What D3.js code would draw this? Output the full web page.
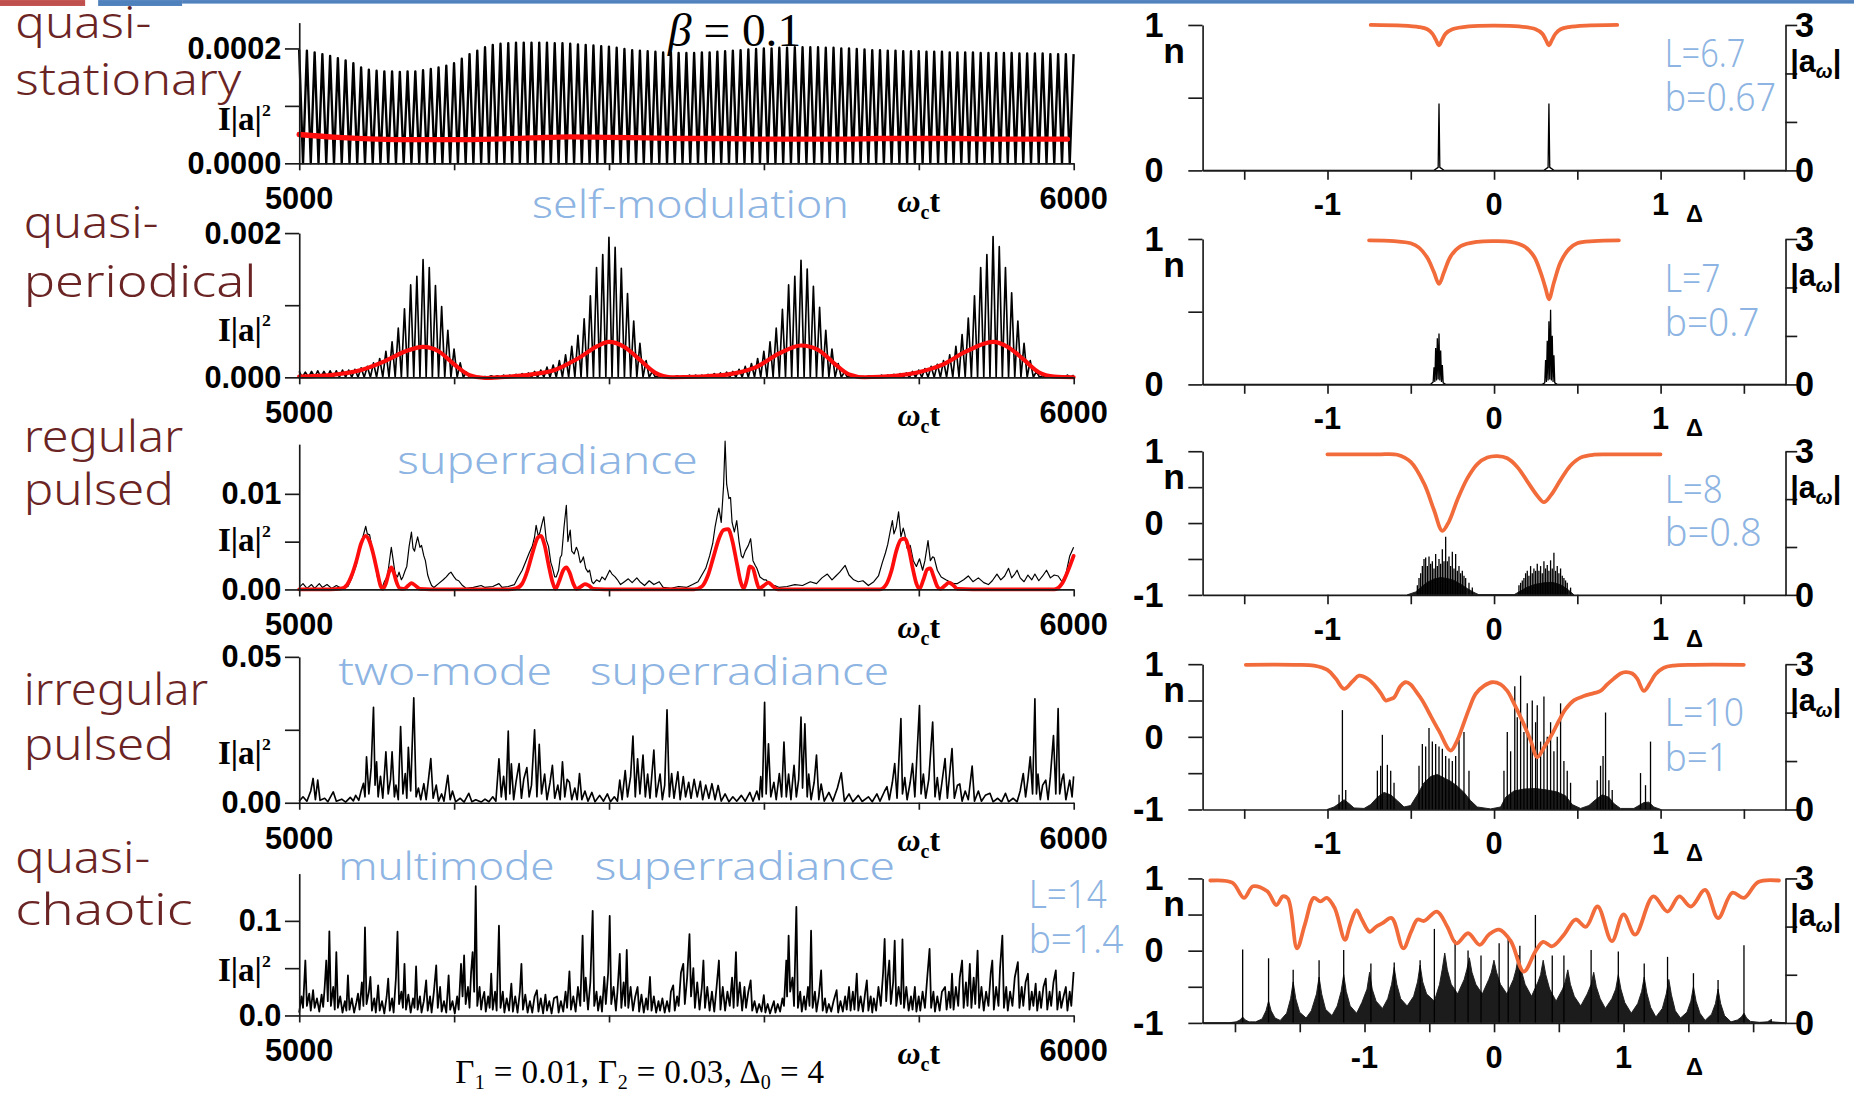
<!DOCTYPE html>
<html lang="en">
<head>
<meta charset="UTF-8">
<title>Superradiance regimes</title>
<script src="https://d3js.org/d3.v7.min.js"></script>
<style>
  html, body { margin: 0; padding: 0; background: #fff; }
  svg { display: block; }
  .axis path, .axis line { stroke: #1a1a1a; stroke-width: 1.4; }
  .tick-label { font-family: "Liberation Sans", Arial, sans-serif; font-weight: bold; fill: #000; }
  .serif { font-family: "Liberation Serif", "Times New Roman", serif; fill: #000; }
  .regime { font-family: "Noto Sans", "DejaVu Sans", sans-serif; font-weight: 300; fill: #6b2424; font-size: 38px; }
  .note { font-family: "Noto Sans", "DejaVu Sans", sans-serif; font-weight: 300; fill: #8db4e2; font-size: 33px; }
</style>
</head>
<body>
<div id="chart"></div>
<script>
// ---------- data ----------
const timeDomain = [5000, 6000];
const timeTicks = [5000, 5200, 5400, 5600, 5800, 6000];

const regimes = [["quasi-", "stationary"], ["quasi-", "periodical"], ["regular", "pulsed"], ["irregular", "pulsed"], ["quasi-", "chaotic"]];
const params = [["L=6.7", "b=0.67"], ["L=7", "b=0.7"], ["L=8", "b=0.8"], ["L=10", "b=1"], ["L=14", "b=1.4"]];

// intensity axis (values in units of the top label's last digit)
const intTicks = [[0, 1, 2], [0, 1, 2], [0, 5, 10], [0, 25, 50], [0, 50, 100]];
const intTickLabels = [["0.0000", "", "0.0002"], ["0.000", "", "0.002"], ["0.00", "", "0.01"], ["0.00", "", "0.05"], ["0.0", "", "0.1"]];
const intMax = [2.45, 2, 15.2, 50, 150];

// quasi-stationary: peak heights of each oscillation (x1e-4), one every 10 time units
const stationaryPeaks = [1.98,1.96,1.93,1.9,1.87,1.83,1.79,1.74,1.67,1.63, 1.61,1.6,1.6,1.59,1.6,1.6,1.62,1.64,1.67,1.7,
  1.74,1.82,1.9,1.96,2.02,2.06,2.08,2.09,2.1,2.1, 2.1,2.1,2.1,2.09,2.09,2.08,2.07,2.06,2.05,2.04,
  2.03,2.01,1.99,1.97,1.96,1.95,1.94,1.93,1.93,1.92, 1.92,1.92,1.93,1.93,1.94,1.95,1.96,1.97,1.98,1.99,
  2.0,2.0,2.01,2.01,2.02,2.02,2.02,2.02,2.01,2.01, 2.0,2.0,1.99,1.98,1.97,1.97,1.96,1.96,1.95,1.95,
  1.95,1.94,1.94,1.94,1.93,1.93,1.93,1.93,1.92,1.92, 1.92,1.92,1.92,1.91,1.91,1.91,1.91,1.9,1.9,1.9, 1.9];
const stationaryMean = [[5000,0.5],[5050,0.45],[5100,0.42],[5150,0.41],[5200,0.41],[5250,0.42],[5300,0.44],[5350,0.46],
  [5400,0.45],[5450,0.44],[5500,0.43],[5550,0.43],[5600,0.42],[5650,0.42],[5700,0.42],[5750,0.43],[5800,0.43],
  [5850,0.43],[5900,0.42],[5950,0.42],[5992,0.42]];

// quasi-periodical: peak heights (x1e-3), one every 8 time units
const periodicPeaks = [0.08,0.07,0.08,0.09,0.08,0.09, 0.09,0.1,0.1,0.11,
  0.13,0.15,0.2,0.26,0.36,0.49,0.68,0.95,1.28,1.4, 1.63,1.52,1.27,0.98,0.65,0.39,0.2,0.07,0.02,
  0.01,0.01,0.02,0.02,0.03,0.03,
  0.04,0.05,0.06,0.08,0.1,0.14,0.17,0.23,0.31,0.43,0.58,0.81,1.13,1.52,1.7, 1.94,1.8,1.51,1.16,0.78,0.47,0.23,0.08,0.02,
  0.01,0.01,0.02,0.02,0.03,0.03,
  0.03,0.04,0.05,0.06,0.07,0.08,0.11,0.15,0.19,0.26,0.36,0.49,0.68,0.94,1.28,1.4, 1.62,1.5,1.26,0.97,0.65,0.39,0.19,0.07,0.02,
  0.01,0.01,0.02,0.02,0.03,0.03,
  0.04,0.05,0.06,0.08,0.1,0.12,0.15,0.18,0.23,0.31,0.43,0.59,0.82,1.13,1.52,1.7, 1.95,1.81,1.52,1.17,0.78,0.47,0.23,0.08,0.02,
  0.01,0.02,0.02,0.03,0.03];
const periodicMean = [[5000,0.01],[5040,0.03],[5080,0.1],[5110,0.22],[5140,0.37],[5160,0.42],[5180,0.36],[5200,0.18],
  [5220,0.03],[5240,-0.01],[5260,0],[5300,0.04],[5330,0.1],[5360,0.26],[5385,0.43],[5400,0.49],[5420,0.42],[5440,0.24],
  [5460,0.06],[5480,0],[5520,0.01],[5560,0.05],[5590,0.14],[5620,0.33],[5648,0.44],[5670,0.38],[5690,0.2],[5710,0.04],
  [5730,0],[5770,0.02],[5800,0.07],[5830,0.17],[5860,0.35],[5896,0.49],[5915,0.42],[5935,0.25],[5955,0.07],[5975,0.01],[6000,0]];

// regular pulsed (x1e-3)
const regularTrace = [[5000,0.2],[5005,0.6],[5010,0.1],[5016,0.5],[5020,0.1],[5026,0.6],[5030,0.2],[5036,0.5],[5042,0.1],[5048,0.4],
  [5055,0.1],[5063,0.3],[5068,1.2],[5074,2.6],[5078,4.2],[5081,5.1],[5084,6.0],[5086,6.6],[5088,5.8],[5091,5.7],[5094,4.4],
  [5096,3.7],[5099,2.2],[5101,1.3],[5104,0.5],[5107,0.1],[5110,0.8],[5114,1.4],[5117,3.2],[5119,4.4],[5121,3.3],[5124,1.6],
  [5127,1.3],[5129,1.8],[5132,1.0],[5134,1.3],[5137,2.0],[5139,2.4],[5142,4.5],[5145,6.0],[5147,4.3],[5149,4.0],[5151,4.8],
  [5153,5.5],[5156,4.4],[5158,4.6],[5161,3.5],[5163,3.0],[5166,1.5],[5168,1.0],[5171,0.4],[5174,0.2],[5180,0.6],[5186,1.0],
  [5190,1.3],[5193,1.6],[5196,1.8],[5200,1.3],[5203,1.0],[5206,0.9],[5211,0.4],[5216,0.1],[5225,0.2],[5235,0.4],[5240,0.2],
  [5250,0.3],[5258,0.6],[5262,0.2],[5270,0.3],[5278,0.5],[5283,1.3],[5288,2.0],[5293,3.0],[5297,3.8],[5301,4.5],[5304,5.5],
  [5306,6.7],[5309,5.5],[5311,6.0],[5314,7.0],[5316,7.6],[5319,5.2],[5322,4.5],[5325,2.8],[5327,2.3],[5330,1.3],[5332,1.3],
  [5335,2.0],[5337,3.3],[5339,3.6],[5342,6.5],[5345,8.8],[5347,5.0],[5350,6.2],[5352,4.0],[5355,3.7],[5358,4.4],[5360,4.0],
  [5363,2.8],[5365,3.0],[5367,3.4],[5370,2.2],[5373,1.8],[5375,2.0],[5378,0.8],[5380,0.6],[5384,1.0],[5388,0.8],[5391,1.3],
  [5395,1.0],[5398,1.5],[5401,2.0],[5404,1.6],[5408,1.3],[5411,1.0],[5415,0.5],[5420,0.8],[5425,1.1],[5430,0.7],[5436,1.2],
  [5440,0.8],[5446,0.4],[5452,0.9],[5458,0.5],[5465,0.8],[5470,0.2],[5480,0.1],[5490,0.3],[5500,0.2],[5508,0.5],[5515,0.8],
  [5520,1.5],[5525,2.2],[5530,3.5],[5534,4.8],[5537,6.5],[5540,7.8],[5542,8.5],[5545,7.0],[5548,10.8],[5550,15.5],[5552,11.0],
  [5555,9.5],[5557,9.6],[5559,7.0],[5562,6.0],[5565,7.2],[5568,5.0],[5571,3.5],[5573,3.3],[5576,4.0],[5580,4.6],[5583,5.3],
  [5586,3.0],[5589,2.5],[5591,2.2],[5595,1.3],[5600,1.0],[5603,1.0],[5608,0.5],[5614,0.4],[5620,0.2],[5630,0.3],[5640,0.5],
  [5650,0.4],[5660,0.8],[5668,0.6],[5675,1.2],[5682,1.6],[5688,1.0],[5693,1.4],[5698,1.8],[5705,2.5],[5710,1.5],[5716,1.0],
  [5722,0.8],[5728,0.9],[5735,0.4],[5742,0.8],[5748,1.4],[5753,2.8],[5757,3.8],[5760,4.7],[5763,6.0],[5766,7.2],[5768,5.8],
  [5771,6.5],[5774,8.1],[5777,5.5],[5780,6.4],[5782,5.8],[5785,4.3],[5789,4.6],[5793,3.0],[5797,2.4],[5801,3.2],[5805,2.0],
  [5808,3.0],[5812,5.1],[5815,3.0],[5818,3.4],[5820,3.3],[5824,2.0],[5829,1.3],[5835,1.0],[5840,0.8],[5845,0.6],[5850,0.6],
  [5858,1.0],[5864,1.4],[5870,0.8],[5877,1.2],[5884,0.7],[5890,0.5],[5895,0.9],[5901,1.6],[5906,1.0],[5911,1.4],[5916,2.2],
  [5920,1.2],[5924,1.6],[5927,2.0],[5931,1.2],[5936,0.8],[5941,1.5],[5946,1.0],[5950,1.6],[5955,0.9],[5960,1.4],[5965,2.0],
  [5970,1.2],[5975,1.5],[5980,1.4],[5985,0.8],[5990,1.6],[5995,3.5],[6000,4.4]];
const regularMean = [[5000,0],[5040,0],[5055,0.1],[5062,0.5],[5068,1.5],[5074,3.0],[5080,4.8],[5086,5.6],[5091,5.0],[5096,3.6],
  [5101,1.8],[5105,0.4],[5108,0.05],[5112,0.6],[5116,1.8],[5119,2.3],[5122,1.8],[5126,0.7],[5130,0.1],[5135,0.05],[5141,0.4],
  [5145,0.65],[5150,0.4],[5156,0.05],[5170,0],[5270,0],[5280,0.1],[5288,0.6],[5295,2.0],[5302,4.0],[5308,5.4],[5312,5.6],
  [5317,4.6],[5322,2.6],[5327,0.8],[5331,0.05],[5336,0.9],[5341,2.0],[5345,2.3],[5349,1.8],[5354,0.6],[5358,0.05],[5364,0.3],
  [5369,0.55],[5374,0.4],[5380,0.05],[5395,0],[5510,0],[5520,0.3],[5528,1.5],[5535,3.4],[5542,5.3],[5548,6.2],[5554,6.3],
  [5559,5.2],[5565,2.8],[5570,0.8],[5574,0.1],[5578,1.0],[5582,2.4],[5586,2.2],[5590,1.0],[5594,0.1],[5600,0.4],[5606,0.7],
  [5612,0.3],[5618,0],[5750,0],[5758,0.5],[5765,2.0],[5771,4.0],[5777,5.2],[5782,5.3],[5787,4.3],[5792,2.3],[5797,0.6],
  [5801,0.05],[5806,1.0],[5811,2.1],[5815,2.2],[5819,1.4],[5824,0.3],[5828,0.05],[5834,0.4],[5839,0.7],[5845,0.4],[5850,0.05],
  [5870,0],[5975,0],[5985,0.6],[5993,2.0],[6000,3.5]];

// irregular pulsed (x1e-3)
const irregularTrace = [[5000,0.5],[5005,2.0],[5010,0.5],[5015,4],[5018,8.3],[5021,1],[5024,7.7],[5027,0.8],[5033,1.5],[5037,0.3],
  [5044,3.7],[5048,0.5],[5055,1.2],[5060,0.2],[5066,1.8],[5070,0.6],[5073,2.5],[5077,0.8],[5080,4],[5083,6.6],[5085,2],[5087,15.7],
  [5090,3],[5093,12],[5096,32.7],[5098,6],[5100,14],[5102,2],[5105,9],[5108,1.5],[5112,17.4],[5115,3],[5118,8],[5120,17.4],[5123,2],
  [5125,6],[5128,1],[5131,26.1],[5134,3],[5137,10],[5139,1.5],[5141,19],[5144,4],[5148,35.9],[5151,2],[5154,5],[5157,1],[5161,6.5],
  [5164,1],[5167,8],[5170,15.1],[5173,1.5],[5177,6],[5180,0.5],[5184,3],[5187,0.5],[5192,9.4],[5195,1],[5198,4],[5202,0.3],[5208,1.5],
  [5213,0.2],[5219,3.2],[5223,0.3],[5228,1],[5235,0.2],[5240,1.2],[5245,0.3],[5250,2],[5254,0.5],[5258,15],[5261,2],[5264,9],[5267,1],
  [5270,24.5],[5272,3],[5274,13.3],[5277,1],[5280,7],[5284,13.4],[5287,1.5],[5290,8],[5294,12],[5297,2],[5300,6],[5304,25],[5307,2],
  [5310,20],[5313,3],[5317,9.8],[5320,1],[5324,7],[5327,12.8],[5330,1.5],[5334,6],[5337,1],[5340,14],[5343,2],[5346,8],[5349,7],
  [5352,1],[5356,5],[5359,1],[5362,10],[5365,1],[5369,4],[5373,0.5],[5378,3.5],[5382,0.3],[5388,2.5],[5393,0.5],[5398,3],[5402,0.3],
  [5407,2],[5411,0.5],[5414,7.7],[5417,1],[5421,11],[5424,2],[5428,9],[5431,22.8],[5434,2],[5437,15],[5440,3],[5444,16.3],[5447,2],
  [5450,9.8],[5453,1.5],[5458,18],[5461,2],[5466,9.8],[5469,1],[5472,6],[5475,31.8],[5478,2],[5481,10],[5484,1.5],[5489,10.6],[5492,1],
  [5496,8.9],[5499,2],[5503,7],[5506,1.5],[5510,8],[5514,2],[5518,7.3],[5521,1],[5525,6],[5529,1.5],[5533,6.5],[5537,1],[5541,5.9],
  [5545,0.5],[5550,3],[5555,0.3],[5560,2],[5565,0.5],[5571,2.5],[5576,0.5],[5582,3.5],[5586,0.5],[5591,4],[5594,1],[5596,8.9],[5598,2],
  [5601,34.4],[5603,3],[5606,20.2],[5609,2],[5613,7],[5616,1],[5620,10],[5623,2],[5626,20.8],[5629,2],[5632,9.8],[5635,1],[5639,12.8],
  [5642,2],[5645,8],[5648,29.3],[5650,5],[5653,27],[5656,2],[5658,9.8],[5661,1],[5665,7],[5668,16.3],[5671,1],[5674,6.4],[5678,0.5],
  [5684,3.5],[5689,0.5],[5695,5],[5700,10.2],[5704,0.5],[5710,3],[5715,0.3],[5722,2.5],[5727,0.4],[5735,2],[5740,0.3],[5746,3],[5750,0.5],
  [5756,4],[5759,5.5],[5762,1],[5766,7],[5769,13.4],[5772,1.5],[5777,28.8],[5779,3],[5782,8.6],[5785,1],[5789,7],[5792,13.4],[5795,2],
  [5801,33.3],[5803,3],[5806,9.8],[5809,1.5],[5813,8],[5818,27.6],[5821,2],[5824,8.6],[5827,1],[5830,7],[5834,15.1],[5837,1.5],[5840,10],
  [5843,18.5],[5846,1.5],[5850,6],[5853,6.4],[5856,0.5],[5860,4],[5864,1],[5869,12.5],[5872,0.5],[5877,4],[5881,0.5],[5886,2.5],
  [5892,3.2],[5896,0.3],[5902,1.5],[5907,0.3],[5912,3.2],[5916,0.3],[5922,1.5],[5927,0.3],[5931,4],[5935,10],[5938,2],[5941,8],
  [5944,15.7],[5947,3],[5950,35.6],[5952,3],[5954,9.8],[5957,1],[5960,6],[5964,7.7],[5967,1],[5970,9],[5974,23],[5977,3],[5980,32.2],
  [5982,3],[5985,8],[5987,9.8],[5990,1],[5995,7.7],[5998,2],[6000,9]];

// quasi-chaotic (x1e-3)
const chaoticTrace = [[5000,3],[5003,20],[5005,8],[5008,58],[5010,10],[5013,23],[5015,5],[5018,26.6],[5020,8],[5023,18],[5026,4],
  [5029,22],[5031,9],[5033,30],[5035,58],[5037,15],[5039,88.8],[5041,10],[5044,30],[5046,6],[5048,66.8],[5050,8],[5053,20],[5056,3],
  [5059,15],[5061,5],[5063,42.3],[5065,6],[5068,18],[5071,3],[5074,14],[5076,23],[5078,6],[5081,35],[5083,10],[5085,93],[5087,12],
  [5090,25],[5092,40.6],[5094,5],[5097,18],[5099,3],[5102,31.8],[5104,5],[5107,15],[5110,2],[5113,20],[5115,38.8],[5117,5],[5120,18],
  [5122,3],[5125,40],[5127,88.5],[5129,12],[5132,25],[5134,8],[5136,54.5],[5138,6],[5141,22],[5144,3],[5147,18],[5149,8],[5151,51.7],
  [5153,6],[5156,20],[5158,3],[5161,15],[5164,37],[5166,5],[5169,20],[5171,3],[5174,25],[5177,52.8],[5179,8],[5182,30],[5184,4],
  [5187,15],[5190,3],[5193,42.3],[5195,6],[5198,15],[5201,2],[5204,20],[5206,6],[5209,54.5],[5211,20],[5213,63.3],[5215,12],[5218,30],
  [5220,8],[5222,45],[5224,66.8],[5226,25],[5228,136.7],[5230,10],[5233,30],[5235,6],[5237,18],[5239,24.8],[5241,4],[5244,20],[5246,8],
  [5248,44],[5250,6],[5253,25],[5255,5],[5258,94.8],[5260,8],[5263,25],[5265,3],[5268,18],[5271,5],[5274,33.6],[5276,4],[5279,20],
  [5282,3],[5285,25],[5287,54.5],[5289,6],[5292,22],[5295,3],[5298,15],[5301,3],[5304,20],[5307,26.6],[5309,4],[5312,18],[5315,2],
  [5318,22],[5320,5],[5323,15],[5326,2],[5329,18],[5333,20],[5335,3],[5338,15],[5341,4],[5344,25],[5346,8],[5349,46.5],[5351,6],
  [5354,20],[5357,4],[5360,30],[5363,10],[5366,84.3],[5368,15],[5370,40],[5373,6],[5376,35],[5379,110.5],[5381,10],[5384,25],[5386,5],
  [5389,20],[5391,4],[5394,40.6],[5396,12],[5399,45],[5401,105.2],[5403,12],[5406,30],[5409,5],[5411,25],[5414,65],[5416,8],[5419,35],
  [5421,10],[5423,69.2],[5425,8],[5428,30],[5431,5],[5434,20],[5437,30],[5439,4],[5442,22],[5445,3],[5448,18],[5450,6],[5453,40.6],
  [5455,5],[5458,20],[5461,3],[5464,15],[5466,5],[5469,18],[5472,3],[5475,15],[5478,4],[5480,25],[5483,31.8],[5485,5],[5488,20],
  [5490,10],[5493,45],[5496,54.5],[5498,12],[5501,40],[5504,86],[5506,20],[5509,50],[5511,8],[5514,35],[5517,6],[5520,30],[5522,58],
  [5524,8],[5527,30],[5530,5],[5533,25],[5536,4],[5539,30],[5542,58],[5544,6],[5547,30],[5550,5],[5553,25],[5556,10],[5559,40],[5561,8],
  [5564,66.8],[5566,10],[5569,35],[5572,5],[5575,30],[5577,8],[5580,25],[5583,37],[5585,5],[5588,15],[5591,3],[5594,12],[5597,4],
  [5600,21.3],[5602,3],[5605,12],[5608,2],[5611,10],[5613,15],[5615,3],[5618,12],[5621,4],[5624,18],[5626,10],[5629,58],[5630,20],
  [5632,84.3],[5634,25],[5637,40],[5639,10],[5642,114.7],[5644,8],[5647,25],[5649,4],[5652,20],[5654,6],[5657,30],[5659,10],[5661,89.5],
  [5663,8],[5666,25],[5668,4],[5671,20],[5674,47.6],[5676,5],[5679,18],[5681,3],[5684,12],[5687,4],[5690,15],[5694,26.6],[5696,3],
  [5699,15],[5702,4],[5705,20],[5707,6],[5710,30],[5712,5],[5715,25],[5717,6],[5720,44],[5722,5],[5725,20],[5728,4],[5731,25],[5733,37],
  [5735,5],[5738,20],[5740,3],[5742,18],[5745,5],[5748,30],[5751,10],[5754,45],[5756,80.8],[5758,15],[5760,40],[5762,58],[5764,12],
  [5767,35],[5769,79],[5771,10],[5774,30],[5777,12],[5779,80.4],[5781,8],[5784,30],[5787,5],[5790,20],[5792,6],[5795,30],[5797,4],
  [5800,20],[5802,5],[5805,25],[5808,8],[5811,40],[5814,70.3],[5816,8],[5819,25],[5821,4],[5824,20],[5827,5],[5830,25],[5834,30],
  [5836,6],[5839,25],[5841,8],[5843,44],[5845,6],[5848,30],[5851,10],[5853,40],[5856,58],[5858,8],[5861,35],[5863,10],[5866,54.5],
  [5868,8],[5871,40],[5873,12],[5876,68.5],[5878,8],[5881,30],[5884,5],[5887,25],[5890,10],[5893,45],[5895,58],[5897,6],[5900,30],
  [5903,10],[5905,50],[5908,84.3],[5910,8],[5913,30],[5915,5],[5918,25],[5921,10],[5924,40],[5928,56.3],[5930,8],[5933,30],[5935,10],
  [5938,35],[5941,44],[5943,6],[5946,25],[5948,10],[5951,33.6],[5953,5],[5956,25],[5958,8],[5961,30],[5964,38.8],[5966,6],[5969,25],
  [5971,10],[5974,35],[5977,47.6],[5979,6],[5982,25],[5984,8],[5987,20],[5990,30],[5992,5],[5995,25],[5997,10],[6000,45.8]];

// ---------- spectra (right column) ----------
const deltaDomains = [[-1.75, 1.75], [-1.75, 1.75], [-1.75, 1.75], [-1.75, 1.75], [-2.25, 2.25]];
const deltaTicks = [[-1.5,-1,-0.5,0,0.5,1,1.5], [-1.5,-1,-0.5,0,0.5,1,1.5], [-1.5,-1,-0.5,0,0.5,1,1.5],
  [-1.5,-1,-0.5,0,0.5,1,1.5], [-2,-1.5,-1,-0.5,0,0.5,1,1.5,2]];
const deltaLabels = [-1, 0, 1];
const nDomains = [[0, 1], [0, 1], [-1, 1], [-1, 1], [-1, 1]];
const nTicks = [[0, 0.5, 1], [0, 0.5, 1], [-1, -0.5, 0, 0.5, 1], [-1, -0.5, 0, 0.5, 1], [-1, -0.5, 0, 0.5, 1]];
const nLabels = [1, 0, -1];
const ampTicks = [0, 1, 2, 3];
const ampLabels = [0, 3];

// population inversion n(Δ)
const nStationary = [[-0.74,1.0],[-0.55,0.995],[-0.45,0.985],[-0.4,0.97],[-0.37,0.94],[-0.35,0.9],[-0.33,0.86],[-0.31,0.9],
  [-0.29,0.94],[-0.25,0.97],[-0.15,0.99],[0,0.995],[0.15,0.99],[0.25,0.97],[0.29,0.94],[0.31,0.9],[0.33,0.86],[0.35,0.9],
  [0.37,0.94],[0.4,0.97],[0.45,0.985],[0.55,0.995],[0.74,1.0]];
const nPeriodic = [[-0.75,0.99],[-0.6,0.985],[-0.5,0.97],[-0.45,0.94],[-0.4,0.87],[-0.36,0.77],[-0.33,0.69],[-0.3,0.77],
  [-0.26,0.88],[-0.2,0.95],[-0.1,0.98],[0,0.985],[0.1,0.98],[0.18,0.95],[0.24,0.88],[0.28,0.77],[0.31,0.66],[0.33,0.585],
  [0.36,0.7],[0.4,0.84],[0.45,0.93],[0.5,0.97],[0.6,0.985],[0.75,0.99]];
const nRegular = [[-1.0,0.955],[-0.7,0.955],[-0.58,0.95],[-0.5,0.85],[-0.42,0.55],[-0.36,0.18],[-0.31,-0.11],[-0.27,0.02],
  [-0.22,0.32],[-0.16,0.62],[-0.1,0.82],[-0.04,0.91],[0.02,0.93],[0.08,0.9],[0.14,0.78],[0.2,0.58],[0.26,0.38],[0.3,0.29],
  [0.34,0.38],[0.4,0.6],[0.46,0.8],[0.52,0.91],[0.6,0.95],[0.7,0.955],[1.0,0.955]];
const nIrregular = [[-1.49,0.99],[-1.2,0.99],[-1.08,0.98],[-1.0,0.92],[-0.95,0.8],[-0.9,0.66],[-0.85,0.76],[-0.81,0.84],
  [-0.76,0.8],[-0.72,0.72],[-0.68,0.6],[-0.65,0.5],[-0.62,0.52],[-0.6,0.54],[-0.56,0.7],[-0.53,0.75],[-0.5,0.72],[-0.47,0.63],
  [-0.43,0.5],[-0.39,0.33],[-0.33,0.08],[-0.26,-0.19],[-0.22,-0.05],[-0.19,0.13],[-0.15,0.38],[-0.11,0.59],[-0.06,0.7],
  [-0.01,0.75],[0.04,0.72],[0.08,0.63],[0.12,0.46],[0.17,0.22],[0.22,-0.05],[0.26,-0.28],[0.3,-0.15],[0.35,0.04],[0.39,0.22],
  [0.43,0.38],[0.48,0.5],[0.54,0.56],[0.6,0.6],[0.64,0.63],[0.68,0.72],[0.72,0.8],[0.76,0.87],[0.79,0.89],[0.83,0.87],
  [0.86,0.8],[0.9,0.63],[0.94,0.75],[0.97,0.86],[1.02,0.95],[1.08,0.98],[1.2,0.99],[1.5,0.99]];
const nChaotic = [[-2.19,0.97],[-2.02,0.94],[-1.93,0.73],[-1.86,0.89],[-1.75,0.82],[-1.68,0.63],[-1.63,0.75],[-1.59,0.72],
  [-1.52,0.03],[-1.46,0.36],[-1.39,0.73],[-1.34,0.68],[-1.29,0.73],[-1.23,0.59],[-1.15,0.15],[-1.11,0.36],[-1.06,0.56],
  [-1.02,0.43],[-0.96,0.26],[-0.91,0.33],[-0.86,0.38],[-0.79,0.45],[-0.7,0.03],[-0.64,0.26],[-0.59,0.43],[-0.54,0.41],
  [-0.44,0.54],[-0.36,0.33],[-0.29,0.1],[-0.2,0.24],[-0.11,0.08],[-0.04,0.22],[0.04,0.29],[0.13,0.13],[0.23,-0.29],
  [0.32,-0.01],[0.38,0.12],[0.45,0.06],[0.54,0.22],[0.63,0.43],[0.71,0.33],[0.8,0.61],[0.91,0.13],[1.0,0.5],[1.09,0.22],
  [1.23,0.75],[1.34,0.54],[1.43,0.75],[1.52,0.61],[1.63,0.84],[1.73,0.45],[1.84,0.8],[1.93,0.73],[2.04,0.95],[2.2,0.97]];

// field spectra |a_w|: fine line traces, dense (filled) envelopes and single lines
const specStationary = [[-1.75,0],[-0.36,0],[-0.335,0.06],[-0.33,1.38],[-0.325,0.06],[-0.3,0],[0.3,0],[0.325,0.06],
  [0.33,1.38],[0.335,0.06],[0.36,0],[1.75,0]];
const specPeriodic = [[-1.75,0],[-0.38,0],[-0.365,0.05],[-0.36,0.35],[-0.355,0.05],[-0.35,0.75],[-0.345,0.08],[-0.34,0.95],
  [-0.335,0.1],[-0.33,1.05],[-0.325,0.08],[-0.32,0.7],[-0.315,0.05],[-0.31,0.4],[-0.305,0.03],[-0.29,0],[0.29,0],[0.305,0.03],
  [0.31,0.5],[0.315,0.05],[0.32,0.9],[0.325,0.08],[0.33,1.3],[0.335,0.1],[0.34,1.54],[0.345,0.08],[0.35,1.0],[0.355,0.05],
  [0.36,0.6],[0.365,0.03],[0.38,0],[1.75,0]];
const envRegular = [[-0.52,0],[-0.47,0.06],[-0.43,0.18],[-0.4,0.26],[-0.36,0.33],[-0.32,0.36],[-0.28,0.34],[-0.24,0.3],
  [-0.2,0.22],[-0.16,0.13],[-0.12,0.05],[-0.09,0],[0.12,0],[0.16,0.08],[0.2,0.16],[0.25,0.22],[0.3,0.25],[0.35,0.26],[0.4,0.21],
  [0.44,0.12],[0.48,0]];
const stemsRegular = [[-0.46,0.2],[-0.45,0.35],[-0.44,0.45],[-0.43,0.6],[-0.42,0.75],[-0.41,0.78],[-0.4,0.6],[-0.39,0.8],[-0.38,0.65],
  [-0.37,0.7],[-0.36,0.55],[-0.35,0.85],[-0.34,0.6],[-0.33,0.75],[-0.32,0.65],[-0.31,0.95],[-0.3,0.7],[-0.29,1.21],[-0.28,0.7],
  [-0.27,0.8],[-0.26,0.6],[-0.25,0.9],[-0.24,0.55],[-0.23,0.85],[-0.22,0.5],[-0.21,0.6],[-0.2,0.45],[-0.19,0.5],[-0.18,0.4],
  [-0.17,0.35],[-0.15,0.25],[-0.13,0.15],
  [0.15,0.2],[0.16,0.25],[0.17,0.3],[0.18,0.35],[0.19,0.45],[0.2,0.5],[0.21,0.4],[0.22,0.6],[0.23,0.45],[0.24,0.55],[0.25,0.5],[0.26,0.65],[0.27,0.5],
  [0.28,0.6],[0.29,0.45],[0.3,0.7],[0.31,0.55],[0.32,0.62],[0.33,0.5],[0.34,0.72],[0.35,0.55],[0.36,0.88],[0.37,0.5],[0.38,0.6],
  [0.39,0.45],[0.4,0.55],[0.41,0.4],[0.42,0.35],[0.43,0.3],[0.44,0.25],[0.46,0.15]];
const envIrregular = [[-1.0,0],[-0.96,0.05],[-0.93,0.12],[-0.9,0.2],[-0.87,0.12],[-0.84,0.03],[-0.78,0.02],[-0.74,0.1],
  [-0.7,0.25],[-0.66,0.35],[-0.62,0.3],[-0.58,0.18],[-0.54,0.05],[-0.5,0.08],[-0.46,0.3],[-0.42,0.55],[-0.38,0.68],[-0.34,0.72],
  [-0.3,0.65],[-0.26,0.58],[-0.22,0.48],[-0.18,0.35],[-0.14,0.18],[-0.1,0.05],[-0.02,0.01],[0.04,0.05],[0.07,0.25],[0.12,0.38],
  [0.18,0.42],[0.25,0.43],[0.32,0.4],[0.38,0.36],[0.43,0.28],[0.47,0.1],[0.52,0.02],[0.57,0.08],[0.61,0.2],[0.65,0.3],[0.69,0.25],
  [0.72,0.12],[0.76,0.02],[0.84,0.02],[0.87,0.08],[0.9,0.14],[0.93,0.15],[0.96,0.05],[1.0,0]];
const stemsIrregular = [[-0.93,0.3],[-0.91,2.05],[-0.89,0.4],[-0.7,0.8],[-0.68,0.9],[-0.67,1.54],[-0.64,0.92],[-0.62,0.8],
  [-0.6,0.55],[-0.45,0.9],[-0.43,1.35],[-0.41,1.3],[-0.39,1.68],[-0.37,1.4],[-0.35,1.35],[-0.33,1.3],[-0.31,1.25],[-0.29,1.1],
  [-0.27,1.05],[-0.25,1.0],[-0.23,1.1],[-0.21,1.44],[-0.18,1.6],[-0.15,0.8],[0.06,0.8],[0.08,1.6],[0.1,1.2],[0.125,2.54],
  [0.14,1.9],[0.16,2.76],[0.18,1.6],[0.2,2.19],[0.22,1.5],[0.23,2.25],[0.25,1.8],[0.26,2.15],[0.28,1.4],[0.3,2.33],[0.32,1.5],
  [0.34,1.8],[0.36,1.2],[0.38,1.5],[0.4,2.19],[0.42,1.0],[0.44,0.8],[0.46,0.55],[0.62,0.6],[0.64,0.9],[0.655,1.1],[0.67,2.0],
  [0.69,0.6],[0.71,0.4],[0.88,0.75],[0.91,0.5],[0.94,1.4]];
const envChaotic = [[-2.25,0],[-2.05,0],[-1.99,0.02],[-1.96,0.06],[-1.94,0.12],[-1.92,0.06],[-1.89,0.02],
  [-1.84,0.02],[-1.79,0.08],[-1.76,0.25],[-1.74,0.45],[-1.72,0.25],[-1.69,0.1],
  [-1.65,0.05],[-1.6,0.2],[-1.57,0.5],[-1.55,0.85],[-1.53,0.5],[-1.5,0.22],
  [-1.45,0.1],[-1.41,0.25],[-1.37,0.6],[-1.35,0.95],[-1.33,0.6],[-1.3,0.28],
  [-1.25,0.15],[-1.21,0.35],[-1.18,0.65],[-1.16,1.0],[-1.14,0.65],[-1.11,0.35],
  [-1.06,0.2],[-1.02,0.42],[-0.98,0.7],[-0.96,1.05],[-0.94,0.7],[-0.91,0.45],
  [-0.86,0.3],[-0.82,0.5],[-0.79,0.8],[-0.77,1.15],[-0.75,0.8],[-0.72,0.5],
  [-0.67,0.35],[-0.62,0.55],[-0.59,0.85],[-0.57,1.2],[-0.55,0.85],[-0.52,0.6],
  [-0.46,0.45],[-0.42,0.8],[-0.4,1.1],[-0.38,1.45],[-0.36,1.1],[-0.33,0.8],
  [-0.28,0.6],[-0.23,0.9],[-0.21,1.1],[-0.19,1.35],[-0.17,1.05],[-0.14,0.8],
  [-0.09,0.6],[-0.04,0.9],[-0.02,1.05],[0,1.3],[0.02,1.05],[0.05,0.8],
  [0.1,0.6],[0.15,0.9],[0.17,1.1],[0.19,1.4],[0.21,1.1],[0.24,0.8],
  [0.29,0.55],[0.34,0.85],[0.36,1.0],[0.38,1.3],[0.4,1.0],[0.43,0.7],
  [0.48,0.45],[0.53,0.7],[0.55,0.85],[0.57,1.1],[0.59,0.8],[0.62,0.55],
  [0.67,0.35],[0.72,0.6],[0.75,0.8],[0.77,1.05],[0.79,0.75],[0.82,0.5],
  [0.86,0.3],[0.91,0.5],[0.94,0.7],[0.96,1.0],[0.98,0.7],[1.01,0.42],
  [1.06,0.2],[1.11,0.4],[1.14,0.65],[1.16,0.95],[1.18,0.62],[1.21,0.32],
  [1.25,0.12],[1.3,0.3],[1.33,0.6],[1.35,0.9],[1.37,0.58],[1.4,0.25],
  [1.44,0.1],[1.49,0.22],[1.52,0.45],[1.54,0.75],[1.56,0.45],[1.59,0.2],
  [1.63,0.05],[1.68,0.18],[1.71,0.4],[1.73,0.7],[1.75,0.4],[1.78,0.15],
  [1.83,0.02],[1.88,0.06],[1.91,0.12],[1.93,0.2],[1.95,0.1],[1.98,0.03],
  [2.05,0.01],[2.11,0.02],[2.13,0.05],[2.15,0.02],[2.25,0]];
const stemsChaotic = [[-1.94,1.52],[-1.74,1.34],[-1.55,1.1],[-1.35,1.3],[-1.16,1.51],[-0.95,1.23],[-0.77,1.25],[-0.57,1.3],
  [-0.46,1.95],[-0.3,1.72],[-0.2,1.5],[-0.1,1.4],[0.04,1.65],[0.11,1.8],[0.2,1.6],[0.32,2.24],[0.45,1.4],[0.54,1.4],[0.75,1.51],
  [0.96,1.48],[1.16,1.23],[1.34,1.37],[1.54,1.03],[1.73,0.89],[1.93,1.61],[2.14,0.08]];

// ---------- layout ----------
const leftLayout = [
  {base: 138, top: 19, ylab: 110, lab: [13, 32, 80], lw: [115, 191]},
  {base: 319, top: 197, ylab: 288, lab: [20, 201, 251], lw: [114, 197]},
  {base: 498.4, top: 375.5, ylab: 466, lab: [20, 382, 427], lw: [135, 127]},
  {base: 678.8, top: 555.4, ylab: 646, lab: [20, 596, 643], lw: [156, 127]},
  {base: 858.7, top: 738.7, ylab: 830, lab: [13, 738, 782], lw: [114, 150]}
];
const rightLayout = [
  {top: 21, bottom: 144, px: 1408, py: [57, 94], pw: [68, 94]},
  {top: 202, bottom: 325, px: 1408, py: [247, 284], pw: [47, 80]},
  {top: 381.5, bottom: 503, px: 1408, py: [425, 462], pw: [49, 82]},
  {top: 561.6, bottom: 684.5, px: 1408, py: [614, 652], pw: [67, 54]},
  {top: 742.8, bottom: 865, px: 870, py: [768, 806], pw: [66, 80]}
];
const noteLayout = [
  [{text: "self-modulation", x: 450, y: 184, w: 268}],
  [{text: "superradiance", x: 336, y: 401, w: 254}],
  [{text: "two-mode", x: 286, y: 579, w: 181}, {text: "superradiance", x: 499, y: 579, w: 253}],
  [{text: "multimode", x: 286, y: 744, w: 183}, {text: "superradiance", x: 503, y: 744, w: 254}]
];

// ---------- drawing ----------
const svg = d3.select("#chart").append("svg")
  .attr("width", 1854).attr("height", 1095)
  .attr("viewBox", "0 0 1568 926");

// slide header strips
svg.append("rect").attr("x", 0).attr("y", 0).attr("width", 72).attr("height", 5).attr("fill", "#c0504d");
svg.append("rect").attr("x", 83).attr("y", 0).attr("width", 71).attr("height", 5).attr("fill", "#4f81bd");
svg.append("rect").attr("x", 154).attr("y", 0).attr("width", 1414).attr("height", 3).attr("fill", "#4f81bd");

function spikeTrain(peaks, t0, dt) {
  const pts = [];
  peaks.forEach((p, i) => {
    pts.push([t0 + i * dt, p]);
    if (i < peaks.length - 1) pts.push([t0 + i * dt + dt / 2, 0]);
  });
  return pts;
}

const leftSeries = [
  {black: spikeTrain(stationaryPeaks, 5000, 10), red: stationaryMean, bw: 2.0, rw: 4.5},
  {black: spikeTrain(periodicPeaks, 5000, 8), red: periodicMean, bw: 1.4, rw: 3.5},
  {black: regularTrace, red: regularMean, bw: 1.0, rw: 3.2},
  {black: irregularTrace, red: null, bw: 1.4},
  {black: chaoticTrace, red: null, bw: 1.5}
];

const xTime = d3.scaleLinear().domain(timeDomain).range([253, 908]);

leftLayout.forEach((L, k) => {
  const y = d3.scaleLinear().domain([0, intMax[k]]).range([L.base, L.top]);
  const g = svg.append("g");
  const line = d3.line().x(d => xTime(d[0])).y(d => y(d[1]));

  g.append("path").datum(leftSeries[k].black).attr("d", line)
    .attr("fill", "none").attr("stroke", "#000").attr("stroke-width", leftSeries[k].bw).attr("stroke-linejoin", "round");
  if (leftSeries[k].red) {
    g.append("path").datum(leftSeries[k].red).attr("d", line.curve(d3.curveMonotoneX))
      .attr("fill", "none").attr("stroke", "#ff0d0d").attr("stroke-width", leftSeries[k].rw).attr("stroke-linecap", "round");
  }

  g.append("g").attr("class", "axis").attr("transform", "translate(253,0)")
    .call(d3.axisLeft(y).tickValues(intTicks[k]).tickSize(12).tickSizeOuter(0).tickFormat(""));
  g.append("g").attr("class", "axis").attr("transform", `translate(0,${L.base})`)
    .call(d3.axisBottom(xTime).tickValues(timeTicks).tickSize(6).tickSizeOuter(0).tickFormat(""));

  intTicks[k].forEach((v, i) => {
    if (!intTickLabels[k][i]) return;
    g.append("text").attr("class", "tick-label").attr("x", 238).attr("y", y(v) + 9)
      .attr("text-anchor", "end").attr("font-size", 26).text(intTickLabels[k][i]);
  });
  [timeDomain[0], timeDomain[1]].forEach(t => {
    g.append("text").attr("class", "tick-label").attr("x", xTime(t)).attr("y", L.base + 39)
      .attr("text-anchor", "middle").attr("font-size", 26).text(t);
  });

  const wl = g.append("text").attr("class", "serif").attr("x", 777).attr("y", L.base + 41)
    .attr("text-anchor", "middle").attr("font-size", 27).attr("font-weight", "bold");
  wl.append("tspan").attr("font-style", "italic").text("ω");
  wl.append("tspan").attr("font-size", 17).attr("dy", 6).text("c");
  wl.append("tspan").attr("dy", -6).text("t");

  const yl = g.append("text").attr("class", "serif").attr("x", 229).attr("y", L.ylab)
    .attr("text-anchor", "end").attr("font-size", 28).attr("font-weight", "bold");
  yl.append("tspan").text("I|a|");
  yl.append("tspan").attr("font-size", 15).attr("dy", -12).text("2");

  regimes[k].forEach((s, i) => {
    g.append("text").attr("class", "regime").attr("x", L.lab[0]).attr("y", L.lab[i + 1])
      .attr("textLength", L.lw[i]).attr("lengthAdjust", "spacingAndGlyphs").text(s);
  });
});

noteLayout.forEach(row => row.forEach(n => {
  svg.append("text").attr("class", "note").attr("x", n.x).attr("y", n.y)
    .attr("textLength", n.w).attr("lengthAdjust", "spacingAndGlyphs").text(n.text);
}));

const rightSeries = [
  {n: nStationary, line: specStationary},
  {n: nPeriodic, line: specPeriodic},
  {n: nRegular, env: envRegular, stems: stemsRegular},
  {n: nIrregular, env: envIrregular, stems: stemsIrregular},
  {n: nChaotic, env: envChaotic, stems: stemsChaotic}
];

rightLayout.forEach((R, k) => {
  const x = d3.scaleLinear().domain(deltaDomains[k]).range([1017, 1510]);
  const yn = d3.scaleLinear().domain(nDomains[k]).range([R.bottom, R.top]);
  const ya = d3.scaleLinear().domain([0, 3]).range([R.bottom, R.top]);
  const g = svg.append("g");
  const S = rightSeries[k];

  if (S.env) {
    g.append("path").datum(S.env)
      .attr("d", d3.area().x(d => x(d[0])).y0(R.bottom).y1(d => ya(d[1])))
      .attr("fill", "#1c1c1c").attr("stroke", "#1c1c1c").attr("stroke-width", 0.8);
  }
  if (S.stems) {
    g.selectAll(null).data(S.stems).join("line")
      .attr("x1", d => x(d[0])).attr("x2", d => x(d[0]))
      .attr("y1", R.bottom).attr("y2", d => ya(d[1]))
      .attr("stroke", "#000").attr("stroke-width", 1.1);
  }
  if (S.line) {
    g.append("path").datum(S.line)
      .attr("d", d3.line().x(d => x(d[0])).y(d => ya(d[1])))
      .attr("fill", "none").attr("stroke", "#000").attr("stroke-width", 1.1);
  }
  g.append("path").datum(S.n)
    .attr("d", d3.line().curve(d3.curveCatmullRom).x(d => x(d[0])).y(d => yn(d[1])))
    .attr("fill", "none").attr("stroke", "#f26b3a").attr("stroke-width", 3.2).attr("stroke-linecap", "round");

  g.append("g").attr("class", "axis").attr("transform", "translate(1017,0)")
    .call(d3.axisLeft(yn).tickValues(nTicks[k]).tickSize(12).tickSizeOuter(0).tickFormat(""));
  g.append("g").attr("class", "axis").attr("transform", "translate(1510,0)")
    .call(d3.axisRight(ya).tickValues(ampTicks).tickSize(10).tickSizeOuter(0).tickFormat(""));
  g.append("g").attr("class", "axis").attr("transform", `translate(0,${R.bottom})`)
    .call(d3.axisBottom(x).tickValues(deltaTicks[k]).tickSize(8).tickSizeOuter(0).tickFormat(""));

  nLabels.forEach(v => {
    if (v < nDomains[k][0]) return;
    g.append("text").attr("class", "tick-label").attr("x", 984).attr("y", yn(v) + 10)
      .attr("text-anchor", "end").attr("font-size", 29).text(v);
  });
  ampLabels.forEach(v => {
    g.append("text").attr("class", "tick-label").attr("x", 1518).attr("y", ya(v) + 10)
      .attr("text-anchor", "start").attr("font-size", 29).text(v);
  });
  deltaLabels.forEach(v => {
    g.append("text").attr("class", "tick-label").attr("x", x(v)).attr("y", R.bottom + 38)
      .attr("text-anchor", "middle").attr("font-size", 26).text(v);
  });
  g.append("text").attr("class", "tick-label").attr("x", 1433).attr("y", R.bottom + 44)
    .attr("text-anchor", "middle").attr("font-size", 20).attr("font-weight", "normal").text("Δ");
  g.append("text").attr("class", "tick-label").attr("x", 993).attr("y", R.top + 32)
    .attr("text-anchor", "middle").attr("font-size", 30).text("n");
  const al = g.append("text").attr("class", "tick-label").attr("x", 1514).attr("y", R.top + 40).attr("font-size", 26);
  al.append("tspan").text("|a");
  al.append("tspan").attr("font-size", 17).attr("font-style", "italic").attr("dy", 5).text("ω");
  al.append("tspan").attr("dy", -5).text("|");

  params[k].forEach((s, i) => {
    g.append("text").attr("class", "note").attr("x", R.px).attr("y", R.py[i]).attr("font-size", 31)
      .attr("textLength", R.pw[i]).attr("lengthAdjust", "spacingAndGlyphs").text(s);
  });
});

// parameter headings
const beta = svg.append("text").attr("class", "serif").attr("x", 565).attr("y", 39).attr("font-size", 40);
beta.append("tspan").attr("font-style", "italic").text("β");
beta.append("tspan").text(" = 0.1");

const gam = svg.append("text").attr("class", "serif").attr("x", 385).attr("y", 916).attr("font-size", 28)
  .attr("textLength", 312).attr("lengthAdjust", "spacing");
gam.append("tspan").text("Γ");
gam.append("tspan").attr("font-size", 17).attr("dy", 5).text("1");
gam.append("tspan").attr("dy", -5).text(" = 0.01, Γ");
gam.append("tspan").attr("font-size", 17).attr("dy", 5).text("2");
gam.append("tspan").attr("dy", -5).text(" = 0.03, Δ");
gam.append("tspan").attr("font-size", 17).attr("dy", 5).text("0");
gam.append("tspan").attr("dy", -5).text(" = 4");
</script>
</body>
</html>
